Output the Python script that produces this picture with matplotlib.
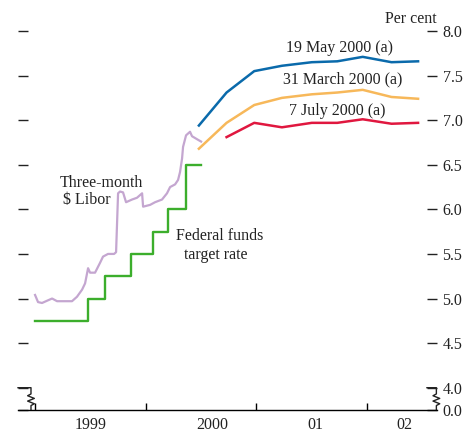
import matplotlib
matplotlib.use("Agg")
import matplotlib.pyplot as plt
import matplotlib.transforms as mtransforms

plt.rcParams['font.family'] = ['Liberation Serif', 'DejaVu Serif']

# three-month $ Libor (decimal year, per cent)
libor_t = [1999.000, 1999.027, 1999.063, 1999.117, 1999.154, 1999.199, 1999.271, 1999.334,
           1999.379, 1999.425, 1999.452, 1999.479, 1999.497, 1999.542, 1999.587, 1999.614,
           1999.659, 1999.714, 1999.732, 1999.750, 1999.768, 1999.795, 1999.822, 1999.876,
           1999.921, 1999.967, 1999.976, 2000.039, 2000.084, 2000.147, 2000.192, 2000.220,
           2000.265, 2000.292, 2000.310, 2000.328, 2000.337, 2000.364, 2000.382, 2000.400,
           2000.418, 2000.445, 2000.472, 2000.500]
libor_v = [5.04, 4.96, 4.95, 4.98, 5.00, 4.97, 4.97, 4.97,
           5.02, 5.10, 5.17, 5.34, 5.29, 5.29, 5.40, 5.47,
           5.50, 5.50, 5.52, 6.18, 6.20, 6.19, 6.08, 6.11,
           6.13, 6.18, 6.03, 6.05, 6.08, 6.11, 6.18, 6.25,
           6.28, 6.33, 6.42, 6.57, 6.70, 6.83, 6.85, 6.87,
           6.82, 6.80, 6.78, 6.76]

# federal funds target rate
fed_t = [1999.00, 1999.48, 1999.63, 1999.87, 2000.07, 2000.20, 2000.36, 2000.50]
fed_v = [4.75, 5.00, 5.25, 5.50, 5.75, 6.00, 6.50, 6.50]

# futures-implied rates
fut_t = [2000.48, 2000.73, 2000.98, 2001.23, 2001.50, 2001.73, 2001.96, 2002.22, 2002.46]
may_v = [6.94, 7.31, 7.55, 7.61, 7.65, 7.66, 7.71, 7.65, 7.66]
mar_v = [6.68, 6.97, 7.17, 7.25, 7.29, 7.31, 7.34, 7.26, 7.24]
jul_t = fut_t[1:]
jul_v = [6.81, 6.97, 6.92, 6.97, 6.97, 7.01, 6.96, 6.97]

yticks = [3.75, 4.0, 4.5, 5.0, 5.5, 6.0, 6.5, 7.0, 7.5, 8.0]
ylabels = ['0.0', '4.0', '4.5', '5.0', '5.5', '6.0', '6.5', '7.0', '7.5', '8.0']
year_ticks = [1999, 2000, 2001, 2002]
year_label_pos = [1999.50, 2000.60, 2001.53, 2002.34]
year_labels = ['1999', '2000', '01', '02']

fig = plt.figure(figsize=(4.65, 4.34), dpi=100)
ax = fig.add_axes([18 / 465, 1 - 410 / 434, 419 / 465, 401.3 / 434])

ax.plot(libor_t, libor_v, color='#c4a6d0', lw=1.6)
ax.plot(fed_t, fed_v, color='#3cae2c', lw=1.7, drawstyle='steps-post')
ax.plot(fut_t, may_v, color='#0a6aab', lw=1.8)
ax.plot(fut_t, mar_v, color='#f7b85a', lw=1.8)
ax.plot(jul_t, jul_v, color='#e0173f', lw=1.8)

ax.set_xlim(1998.846, 2002.631)
ax.set_ylim(3.75, 8.25)

for s in ['left', 'right', 'top']:
    ax.spines[s].set_visible(False)
ax.spines['bottom'].set_linewidth(1.0)

ax.set_yticks(yticks)
ax.set_yticklabels(ylabels)
ax.tick_params(axis='y', left=True, right=True, labelleft=False, labelright=True,
               direction='in', length=7.5, width=1.0, pad=4, labelsize=11.5, colors='#222222')
ax.set_xticks(year_ticks)
ax.set_xticklabels([])
ax.set_xticks(year_label_pos, minor=True)
ax.set_xticklabels(year_labels, minor=True)
ax.tick_params(axis='x', which='major', direction='in', length=5, width=1.0)
ax.tick_params(axis='x', which='minor', length=0, pad=5, labelsize=11.5, colors='#222222')

# axis break marks
trans = mtransforms.blended_transform_factory(ax.transAxes, ax.transData)
for x0, xv in [(0.0, 0.031), (0.976, 0.9985)]:
    bx = [x0, xv, xv, xv - 0.008, xv + 0.008, xv - 0.008, xv + 0.008, xv, xv]
    by = [4.0, 4.0, 3.93, 3.91, 3.88, 3.85, 3.82, 3.80, 3.75]
    ax.plot(bx, by, color='#222222', lw=1.0, transform=trans, clip_on=False)

kw = dict(fontsize=11.5, color='#222222')
ax.text(1.0, 8.14, 'Per cent', transform=trans, ha='right', va='center', **kw)
ax.text(2001.75, 7.81, '19 May 2000 (a)', ha='center', va='center', **kw)
ax.text(2001.78, 7.46, '31 March 2000 (a)', ha='center', va='center', **kw)
ax.text(2001.73, 7.10, '7 July 2000 (a)', ha='center', va='center', **kw)
ax.text(1999.60, 6.30, 'Three-month', ha='center', va='center', **kw)
ax.text(1999.47, 6.10, '$ Libor', ha='center', va='center', **kw)
ax.text(2000.67, 5.70, 'Federal funds', ha='center', va='center', **kw)
ax.text(2000.63, 5.49, 'target rate', ha='center', va='center', **kw)

fig.savefig('out.png', dpi=100)
